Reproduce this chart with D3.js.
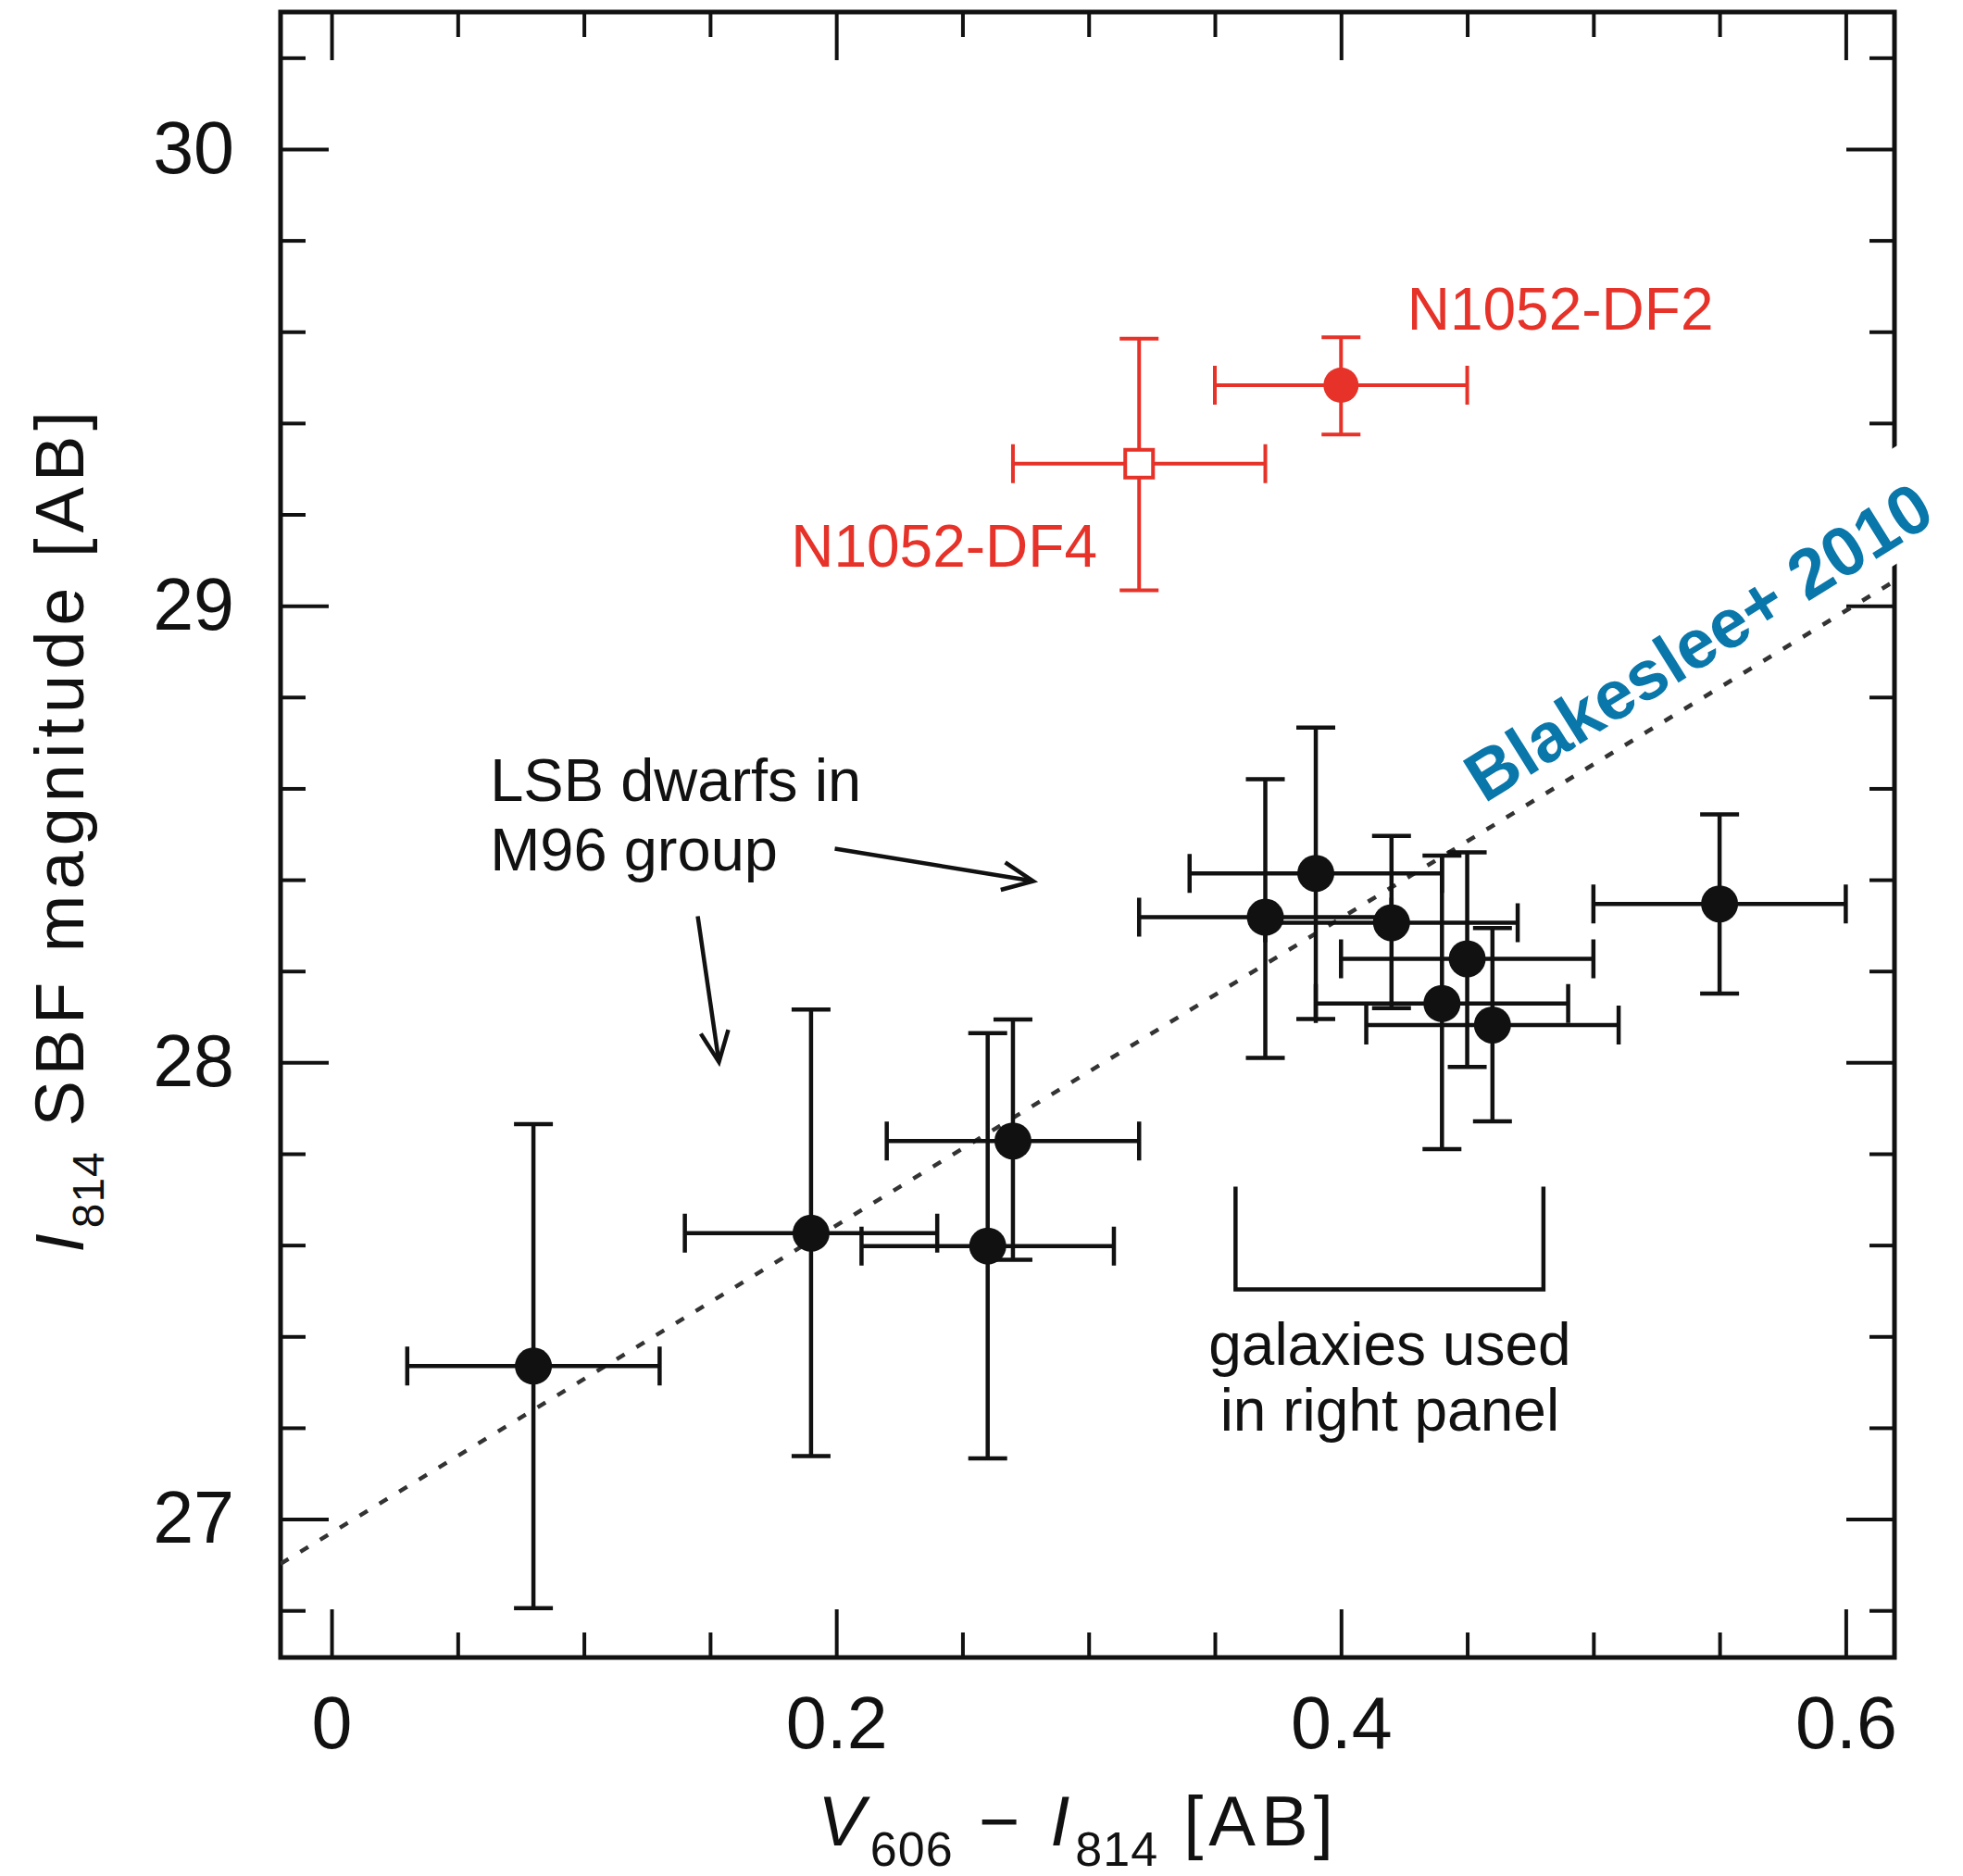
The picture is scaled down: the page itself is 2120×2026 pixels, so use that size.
<!DOCTYPE html>
<html>
<head>
<meta charset="utf-8">
<script src="https://cdn.jsdelivr.net/npm/d3@7"></script>
<style>
  html, body { margin: 0; padding: 0; background: #fff; }
  svg { display: block; }
  text { font-family: "Liberation Sans", Arial, Helvetica, sans-serif; }
</style>
</head>
<body>
<svg id="chart" width="2120" height="2026"></svg>
<script>
// ---------------- data ----------------
// LSB dwarfs in the M96 group (black points)
const dwarfColor   = [0.08, 0.19, 0.26, 0.27, 0.37, 0.39, 0.42, 0.44, 0.45, 0.46, 0.55];
const dwarfSBF     = [27.335, 27.626, 27.598, 27.828, 28.318, 28.414, 28.306, 28.129, 28.227, 28.082, 28.347];
const dwarfColErr  = [0.05, 0.05, 0.05, 0.05, 0.05, 0.05, 0.05, 0.05, 0.05, 0.05, 0.05];
const dwarfSBFHi   = [0.53, 0.49, 0.466, 0.266, 0.302, 0.319, 0.19, 0.324, 0.233, 0.212, 0.196];
const dwarfSBFLo   = [0.53, 0.488, 0.465, 0.26, 0.308, 0.319, 0.187, 0.319, 0.237, 0.211, 0.196];

// NGC1052 galaxies (red)
const ngcNames   = ["N1052-DF2", "N1052-DF4"];
const ngcColor   = [0.40, 0.32];
const ngcSBF     = [29.483, 29.311];
const ngcColErr  = [0.05, 0.05];
const ngcSBFHi   = [0.105, 0.274];
const ngcSBFLo   = [0.108, 0.277];
const ngcSymbol  = ["circle", "square"];

// Blakeslee+ 2010 relation (dotted line), end points
const relColor = [-0.0202, 0.6193];
const relSBF   = [26.902, 29.054];

// axes
const xMajorTicks = [0, 0.2, 0.4, 0.6];
const xMinorTicks = [0.05, 0.1, 0.15, 0.25, 0.3, 0.35, 0.45, 0.5, 0.55];
const yMajorTicks = [27, 28, 29, 30];
const yMinorTicks = [26.8, 27.2, 27.4, 27.6, 27.8, 28.2, 28.4, 28.6, 28.8, 29.2, 29.4, 29.6, 29.8, 30.2];
const xDomain = [-0.0202, 0.6193];
const yDomain = [26.697, 30.30];

// annotations (in data units)
const lsbLines   = ["LSB dwarfs in", "M96 group"];
const lsbAnchor  = [0.0628, 28.573];
const lsbLineGap = 0.153;
const arrowFrom  = [[0.1994, 28.468], [0.1451, 28.320]];
const arrowTo    = [[0.2780, 28.397], [0.1535, 28.001]];
const bracketX   = [0.3582, 0.4802];
const bracketY   = [27.728, 27.503];
const galLines   = ["galaxies used", "in right panel"];
const galAnchor  = [0.4193, 27.338];
const galLineGap = 0.144;
const labelPosDF2 = [0.4262, 29.605];
const labelPosDF4 = [0.3034, 29.086];
const relLabel    = "Blakeslee+ 2010";
const relLabelPos = [0.4568, 28.566];

// ---------------- layout ----------------
const L = 303, R = 2046, T = 13, B = 1790;
const RED = "#e63228", BLACK = "#111", BLUE = "#0a77aa";

const svg = d3.select("#chart");
const x = d3.scaleLinear().domain(xDomain).range([L, R]);
const y = d3.scaleLinear().domain(yDomain).range([B, T]);

const defs = svg.append("defs");
defs.append("clipPath").attr("id", "plotclip")
  .append("rect").attr("x", L).attr("y", T).attr("width", R - L).attr("height", B - T);

defs.append("marker")
  .attr("id", "arrowhead")
  .attr("viewBox", "-42 -22 48 44")
  .attr("refX", 0).attr("refY", 0)
  .attr("markerUnits", "userSpaceOnUse")
  .attr("markerWidth", 48).attr("markerHeight", 44)
  .attr("orient", "auto")
  .append("path")
  .attr("d", "M-33,-15 L0,0 L-33,15")
  .attr("fill", "none").attr("stroke", BLACK).attr("stroke-width", 4.5)
  .attr("stroke-linejoin", "miter");

// ---------------- axes ----------------
const MAJ = 52, MIN = 27;
const fmtX = d => d === 0 ? "0" : d3.format(".1f")(d);
const fmtY = d => d3.format("d")(d);

function styleAxis(g) {
  g.select(".domain").remove();
  g.selectAll(".tick line").attr("stroke", BLACK).attr("stroke-width", 4);
  g.selectAll(".tick text").attr("fill", BLACK).attr("font-size", 79)
    .attr("font-family", "Liberation Sans, Arial, sans-serif");
}

// bottom
svg.append("g").attr("transform", `translate(0,${B})`)
  .call(d3.axisBottom(x).tickValues(xMajorTicks).tickSize(-MAJ).tickPadding(42).tickFormat(fmtX))
  .call(styleAxis);
svg.append("g").attr("transform", `translate(0,${B})`)
  .call(d3.axisBottom(x).tickValues(xMinorTicks).tickSize(-MIN).tickFormat(""))
  .call(styleAxis);
// top
svg.append("g").attr("transform", `translate(0,${T})`)
  .call(d3.axisTop(x).tickValues(xMajorTicks).tickSize(-MAJ).tickFormat(""))
  .call(styleAxis);
svg.append("g").attr("transform", `translate(0,${T})`)
  .call(d3.axisTop(x).tickValues(xMinorTicks).tickSize(-MIN).tickFormat(""))
  .call(styleAxis);
// left
svg.append("g").attr("transform", `translate(${L},0)`)
  .call(d3.axisLeft(y).tickValues(yMajorTicks).tickSize(-MAJ).tickPadding(50).tickFormat(fmtY))
  .call(styleAxis);
svg.append("g").attr("transform", `translate(${L},0)`)
  .call(d3.axisLeft(y).tickValues(yMinorTicks).tickSize(-MIN).tickFormat(""))
  .call(styleAxis);
// right
svg.append("g").attr("transform", `translate(${R},0)`)
  .call(d3.axisRight(y).tickValues(yMajorTicks).tickSize(-MAJ).tickFormat(""))
  .call(styleAxis);
svg.append("g").attr("transform", `translate(${R},0)`)
  .call(d3.axisRight(y).tickValues(yMinorTicks).tickSize(-MIN).tickFormat(""))
  .call(styleAxis);

// frame
svg.append("rect").attr("x", L).attr("y", T).attr("width", R - L).attr("height", B - T)
  .attr("fill", "none").attr("stroke", BLACK).attr("stroke-width", 5);

// axis titles
const yTitle = svg.append("text")
  .attr("transform", `translate(90,${(T + B) / 2 - 6}) rotate(-90)`)
  .attr("text-anchor", "middle").attr("font-size", 74).attr("fill", BLACK)
  .attr("letter-spacing", 6);
yTitle.append("tspan").attr("font-style", "italic").text("I");
yTitle.append("tspan").attr("font-size", 48).attr("dy", 22).attr("letter-spacing", 1).text("814");
yTitle.append("tspan").attr("dy", -22).text(" SBF magnitude [AB]");

const xTitle = svg.append("text")
  .attr("x", (L + R) / 2 - 10).attr("y", 1993)
  .attr("text-anchor", "middle").attr("font-size", 76).attr("fill", BLACK)
  .attr("letter-spacing", 6);
xTitle.append("tspan").attr("font-style", "italic").text("V");
xTitle.append("tspan").attr("font-size", 52).attr("dy", 22).attr("letter-spacing", 1).text("606");
xTitle.append("tspan").attr("dy", -22).text(" \u2212 ");
xTitle.append("tspan").attr("font-style", "italic").text("I");
xTitle.append("tspan").attr("font-size", 52).attr("dy", 22).attr("letter-spacing", 1).text("814");
xTitle.append("tspan").attr("dy", -22).text(" [AB]");

// ---------------- relation line ----------------
svg.append("line")
  .attr("clip-path", "url(#plotclip)")
  .attr("x1", x(relColor[0])).attr("y1", y(relSBF[0]))
  .attr("x2", x(relColor[1])).attr("y2", y(relSBF[1]))
  .attr("stroke", "#333").attr("stroke-width", 4.5)
  .attr("stroke-dasharray", "10,15");

// ---------------- error bars + points ----------------
const CAP = 21;
function drawErr(g, cx, cy, ex, eyHi, eyLo, color, sw) {
  const px = x(cx), py = y(cy);
  const x0 = x(cx - ex), x1 = x(cx + ex);
  const yTop = y(cy + eyHi), yBot = y(cy - eyLo);
  const path = `M${x0},${py}H${x1}` +
    `M${x0},${py - CAP}V${py + CAP}` +
    `M${x1},${py - CAP}V${py + CAP}` +
    `M${px},${yTop}V${yBot}` +
    `M${px - CAP},${yTop}H${px + CAP}` +
    `M${px - CAP},${yBot}H${px + CAP}`;
  g.append("path").attr("d", path).attr("fill", "none")
    .attr("stroke", color).attr("stroke-width", sw);
}

const gDwarf = svg.append("g");
dwarfColor.forEach((c, i) =>
  drawErr(gDwarf, c, dwarfSBF[i], dwarfColErr[i], dwarfSBFHi[i], dwarfSBFLo[i], BLACK, 4.5));
gDwarf.selectAll("circle").data(dwarfColor).enter().append("circle")
  .attr("cx", d => x(d)).attr("cy", (d, i) => y(dwarfSBF[i]))
  .attr("r", 20).attr("fill", BLACK);

const gNgc = svg.append("g");
ngcColor.forEach((c, i) =>
  drawErr(gNgc, c, ngcSBF[i], ngcColErr[i], ngcSBFHi[i], ngcSBFLo[i], RED, 4));
ngcColor.forEach((c, i) => {
  if (ngcSymbol[i] === "circle") {
    gNgc.append("circle").attr("cx", x(c)).attr("cy", y(ngcSBF[i]))
      .attr("r", 19).attr("fill", RED);
  } else {
    gNgc.append("rect").attr("x", x(c) - 15).attr("y", y(ngcSBF[i]) - 15)
      .attr("width", 30).attr("height", 30)
      .attr("fill", "#fff").attr("stroke", RED).attr("stroke-width", 4);
  }
});

// labels for NGC1052 galaxies
svg.append("text").attr("x", x(labelPosDF2[0])).attr("y", y(labelPosDF2[1]))
  .attr("font-size", 64).attr("fill", RED).text(ngcNames[0]);
svg.append("text").attr("x", x(labelPosDF4[0])).attr("y", y(labelPosDF4[1]))
  .attr("text-anchor", "end").attr("font-size", 64).attr("fill", RED).text(ngcNames[1]);

// ---------------- annotations ----------------
lsbLines.forEach((t, i) =>
  svg.append("text").attr("x", x(lsbAnchor[0])).attr("y", y(lsbAnchor[1] - i * lsbLineGap))
    .attr("font-size", 65).attr("fill", BLACK).text(t));

arrowFrom.forEach((f, i) =>
  svg.append("line")
    .attr("x1", x(f[0])).attr("y1", y(f[1]))
    .attr("x2", x(arrowTo[i][0])).attr("y2", y(arrowTo[i][1]))
    .attr("stroke", BLACK).attr("stroke-width", 4.5)
    .attr("marker-end", "url(#arrowhead)"));

svg.append("path")
  .attr("d", `M${x(bracketX[0])},${y(bracketY[0])}V${y(bracketY[1])}H${x(bracketX[1])}V${y(bracketY[0])}`)
  .attr("fill", "none").attr("stroke", BLACK).attr("stroke-width", 4.5);

galLines.forEach((t, i) =>
  svg.append("text").attr("x", x(galAnchor[0])).attr("y", y(galAnchor[1] - i * galLineGap))
    .attr("text-anchor", "middle").attr("font-size", 64).attr("fill", BLACK).text(t));

// Blakeslee+ 2010 label with white backing
const lab = svg.append("g")
  .attr("transform", `translate(${x(relLabelPos[0])},${y(relLabelPos[1])}) rotate(-32)`);
lab.append("rect").attr("x", -14).attr("y", -92).attr("width", 700).attr("height", 108)
  .attr("fill", "#fff");
lab.append("text").attr("x", 0).attr("y", 0)
  .attr("font-family", "'Open Sans', 'Noto Sans', sans-serif")
  .attr("font-weight", 700).attr("font-size", 75).attr("fill", BLUE)
  .text(relLabel);
</script>
</body>
</html>
